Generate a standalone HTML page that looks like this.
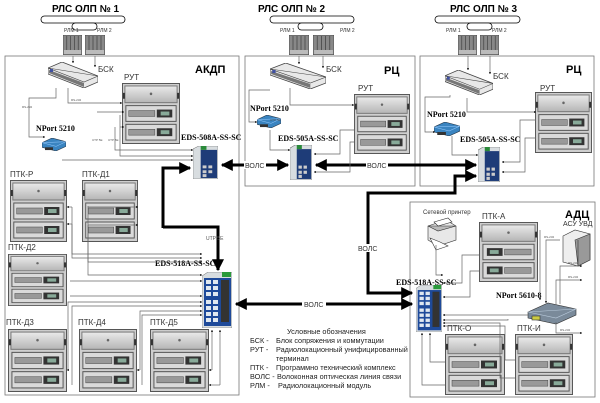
<!DOCTYPE html>
<html><head><meta charset="utf-8"><style>
html,body{margin:0;padding:0;background:#fff;}
svg{display:block;}
text{font-family:"Liberation Sans","DejaVu Sans",sans-serif;}
.s{font-family:"Liberation Serif",serif;font-weight:bold;font-size:8px;fill:#000;}
.l{font-size:8px;fill:#333;}
.t{font-size:3px;fill:#555;}
.th{fill:none;stroke:#000;stroke-width:3;}
.tn{fill:none;stroke:#666;stroke-width:0.7;}
</style></head><body>
<svg width="600" height="403" viewBox="0 0 600 403" xmlns="http://www.w3.org/2000/svg">
<defs>
<linearGradient id="rg" x1="0" y1="0" x2="0" y2="1"><stop offset="0" stop-color="#eaeaea"/><stop offset="1" stop-color="#b5b5b5"/></linearGradient>
<symbol id="rack" viewBox="0 0 60 62" preserveAspectRatio="none">
<rect x="0.5" y="0.5" width="59" height="61" fill="#cfcfcf" stroke="#555"/>
<rect x="3" y="3" width="54" height="17" fill="url(#rg)" stroke="#777"/>
<circle cx="30" cy="11" r="1.3" fill="#666"/>
<rect x="1" y="10" width="2" height="6" fill="#333"/><rect x="57" y="10" width="2" height="6" fill="#333"/>
<rect x="4" y="23" width="52" height="16" fill="#dadada" stroke="#555"/>
<rect x="7" y="28" width="27" height="6" fill="#999" stroke="#444" stroke-width="0.5"/>
<rect x="36" y="27" width="16" height="8" fill="#333"/><rect x="40" y="29" width="9" height="4" fill="#8a9"/>
<rect x="4" y="42" width="52" height="16" fill="#dadada" stroke="#555"/>
<rect x="7" y="47" width="27" height="6" fill="#999" stroke="#444" stroke-width="0.5"/>
<rect x="36" y="46" width="16" height="8" fill="#333"/><rect x="40" y="48" width="9" height="4" fill="#8a9"/>
</symbol>
<symbol id="sw" viewBox="0 0 26 34" preserveAspectRatio="none">
<polygon points="0,3 6,0 26,0 26,34 0,34" fill="#d8dde0" stroke="#666" stroke-width="0.5"/>
<rect x="8" y="4" width="17" height="29" fill="#1e3c78"/>
<rect x="10" y="20" width="4" height="3" fill="#ccc"/><rect x="16" y="20" width="4" height="3" fill="#ccc"/>
<rect x="10" y="25" width="4" height="3" fill="#ccc"/><rect x="16" y="25" width="4" height="3" fill="#ccc"/>
<rect x="10" y="29" width="4" height="3" fill="#ccc"/>
<rect x="8" y="0" width="6" height="4" fill="#2a8a3a"/>
</symbol>
<symbol id="sw18" viewBox="0 0 30 56" preserveAspectRatio="none">
<polygon points="0,4 6,0 30,0 30,56 0,56" fill="#d8dde0" stroke="#666" stroke-width="0.5"/>
<rect x="2" y="6" width="27" height="48" fill="#1e4a9a"/>
<g fill="#e0e8f0">
<rect x="4" y="8" width="5" height="4"/><rect x="11" y="8" width="5" height="4"/>
<rect x="4" y="14" width="5" height="4"/><rect x="11" y="14" width="5" height="4"/>
<rect x="4" y="20" width="5" height="4"/><rect x="11" y="20" width="5" height="4"/>
<rect x="4" y="28" width="5" height="4"/><rect x="11" y="28" width="5" height="4"/>
<rect x="4" y="34" width="5" height="4"/><rect x="11" y="34" width="5" height="4"/>
<rect x="4" y="40" width="5" height="4"/><rect x="11" y="40" width="5" height="4"/>
<rect x="4" y="46" width="5" height="4"/><rect x="11" y="46" width="5" height="4"/>
</g>
<rect x="19" y="8" width="8" height="42" fill="#333"/>
<rect x="20" y="0" width="9" height="5" fill="#2a9a3a"/>
</symbol>
<symbol id="bsk" viewBox="0 0 50 26" preserveAspectRatio="none">
<polygon points="0,6 14,0 50,14 50,20 36,26 0,12" fill="#e8e8e8" stroke="#444" stroke-width="0.8"/>
<polygon points="0,6 36,20 50,14" fill="none" stroke="#444" stroke-width="0.6"/>
<polygon points="1,8 36,21 36,25 1,11" fill="#777"/>
<rect x="2" y="7" width="3" height="3" fill="#4050a0"/>
</symbol>
<symbol id="np" viewBox="0 0 24 14" preserveAspectRatio="none">
<polygon points="0,5 10,0 24,4 24,9 14,14 0,10" fill="#3a84c0" stroke="#234" stroke-width="0.6"/>
<polygon points="0,5 14,9 24,4" fill="none" stroke="#9cf" stroke-width="0.5"/>
<rect x="3" y="10" width="8" height="3" fill="#333"/>
</symbol>
<symbol id="rlm" viewBox="0 0 20 20" preserveAspectRatio="none">
<rect x="0" y="0" width="20" height="20" fill="#888" stroke="#333" stroke-width="0.6"/>
<g stroke="#333" stroke-width="0.6"><line x1="4" y1="1" x2="4" y2="15"/><line x1="8" y1="1" x2="8" y2="15"/><line x1="12" y1="1" x2="12" y2="15"/><line x1="16" y1="1" x2="16" y2="15"/></g>
<rect x="1" y="15" width="18" height="4" fill="#bbb"/>
</symbol>
<marker id="a" viewBox="0 0 10 10" refX="9" refY="5" markerWidth="4" markerHeight="4" orient="auto-start-reverse"><path d="M0,0L10,5L0,10z" fill="#000"/></marker>
<marker id="b" viewBox="0 0 10 10" refX="9" refY="5" markerWidth="3" markerHeight="3" orient="auto-start-reverse"><path d="M0,0L10,5L0,10z" fill="#000"/></marker>
</defs>

<g fill="none" stroke="#777" stroke-width="0.8">
<rect x="5" y="56" width="234" height="339"/>
<rect x="245" y="56" width="170" height="130"/>
<rect x="420" y="56" width="174" height="130"/>
<rect x="410" y="202" width="185" height="195"/>
</g>

<g font-weight="bold" font-size="10" fill="#000">
<text x="52" y="12">РЛС ОЛП № 1</text>
<text x="258" y="12">РЛС ОЛП № 2</text>
<text x="450" y="12">РЛС ОЛП № 3</text>
</g>
<g fill="#fff" stroke="#000" stroke-width="0.8">
<rect x="41" y="16" width="84" height="7" rx="3.5"/><rect x="72" y="23" width="25" height="7" rx="3.5"/>
<rect x="270" y="16" width="84" height="7" rx="3.5"/><rect x="298" y="23" width="25" height="7" rx="3.5"/>
<rect x="435" y="16" width="85" height="7" rx="3.5"/><rect x="467" y="23" width="25" height="7" rx="3.5"/>
</g>
<g font-family="Liberation Serif,serif" font-size="5" fill="#333">
<text x="64" y="32">РЛМ 1</text><text x="97" y="32">РЛМ 2</text>
<text x="280" y="32">РЛМ 1</text><text x="340" y="32">РЛМ 2</text>
<text x="446" y="32">РЛМ 1</text><text x="492" y="32">РЛМ 2</text>
</g>
<use href="#rlm" x="63" y="35" width="19" height="20"/><use href="#rlm" x="85" y="35" width="20" height="20"/>
<use href="#rlm" x="289" y="35" width="20" height="20"/><use href="#rlm" x="313" y="35" width="21" height="20"/>
<use href="#rlm" x="458" y="35" width="19" height="20"/><use href="#rlm" x="480" y="35" width="19" height="20"/>

<g font-weight="bold" font-size="11" fill="#000">
<text x="195" y="73">АКДП</text><text x="384" y="74">РЦ</text><text x="566" y="73">РЦ</text><text x="565" y="218">АДЦ</text>
</g>

<!-- AKDP -->
<use href="#bsk" x="48" y="62" width="50" height="26"/>
<text class="l" x="98" y="72">БСК</text>
<text class="l" x="124" y="80">РУТ</text>
<use href="#rack" x="122" y="83" width="58" height="61"/>
<text class="s" x="36" y="131">NPort 5210</text>
<use href="#np" x="42" y="138" width="24" height="13"/>
<text class="s" x="181" y="140">EDS-508A-SS-SC</text>
<use href="#sw" x="193" y="146" width="25" height="33"/>
<g class="tn" marker-end="url(#b)">
<path d="M73,56V63"/><path d="M95,56V67"/>
<path d="M56,88V98H29V137H45"/>
<path d="M68,88V103H122"/>
<path d="M97,112H124"/><path d="M120,115V156H193"/>
<path d="M120,127H124"/><path d="M115,127V150H193"/>
<path d="M62,160H193"/>
</g>
<text class="t" x="22" y="108">RS-232</text><text class="t" x="71" y="101">RS-232</text>
<text class="t" x="92" y="141">UTP 5E</text><text class="t" x="108" y="141">UTP 5E</text>

<text class="l" x="10" y="177">ПТК-Р</text><text class="l" x="82" y="177">ПТК-Д1</text>
<use href="#rack" x="10" y="180" width="57" height="62"/>
<use href="#rack" x="82" y="180" width="56" height="62"/>
<text class="l" x="8" y="250">ПТК-Д2</text>
<use href="#rack" x="8" y="254" width="59" height="52"/>
<text class="l" x="6" y="325">ПТК-Д3</text><text class="l" x="78" y="325">ПТК-Д4</text><text class="l" x="150" y="325">ПТК-Д5</text>
<use href="#rack" x="8" y="329" width="59" height="63"/>
<use href="#rack" x="79" y="329" width="58" height="63"/>
<use href="#rack" x="150" y="329" width="59" height="63"/>
<text class="s" x="155" y="266">EDS-518A-SS-SC</text>
<use href="#sw18" x="202" y="272" width="30" height="56"/>
<g class="tn" marker-end="url(#b)">
<path d="M72,207V254H202"/><path d="M72,224V258H202"/>
<path d="M88,206V262H202"/><path d="M88,225V275H202"/>
<path d="M70,281H202"/><path d="M70,296H202"/>
<path d="M68,370V302H202"/><path d="M72,385V306H202"/>
<path d="M140,370V311H202"/><path d="M142,385V315H202"/>
<path d="M212,370V330"/><path d="M220,385V330"/>
</g>
<g class="tn" marker-start="url(#b)"><path d="M67,207H72"/><path d="M67,224H72"/><path d="M138,207H88"/><path d="M138,225H88"/><path d="M67,370H68"/><path d="M137,370H140"/><path d="M209,370H212"/><path d="M209,385H220"/></g>

<path class="th" d="M163,228V168H190" marker-end="url(#a)"/>
<path class="th" d="M163,227H218V270" marker-end="url(#a)"/>
<text class="t" x="206" y="240" style="font-size:5px">UTP 5E</text>
<path class="th" d="M222,165H288" marker-start="url(#a)" marker-end="url(#a)"/>
<rect x="244" y="161" width="22" height="8" fill="#fff"/><text class="l" x="245" y="168" style="font-size:7px">ВОЛС</text>
<path class="th" d="M316,165H476" marker-start="url(#a)" marker-end="url(#a)"/>
<rect x="366" y="161" width="22" height="8" fill="#fff"/><text class="l" x="367" y="168" style="font-size:7px">ВОЛС</text>
<path class="th" d="M476,176H455V193H368V293H412" marker-end="url(#a)" marker-start="url(#a)"/>
<rect x="357" y="244" width="22" height="8" fill="#fff"/><text class="l" x="358" y="251" style="font-size:7px">ВОЛС</text>
<path class="th" d="M236,304H412" marker-start="url(#a)" marker-end="url(#a)"/>
<rect x="302" y="300" width="24" height="8" fill="#fff"/><text class="l" x="304" y="307" style="font-size:7px">ВОЛС</text>

<!-- RC2 -->
<use href="#bsk" x="270" y="63" width="56" height="26"/>
<text class="l" x="326" y="72">БСК</text>
<text class="l" x="358" y="91">РУТ</text>
<use href="#rack" x="354" y="94" width="56" height="60"/>
<text class="s" x="250" y="111">NPort 5210</text>
<use href="#np" x="257" y="115" width="24" height="13"/>
<text class="s" x="278" y="141">EDS-505A-SS-SC</text>
<use href="#sw" x="290" y="145" width="22" height="35"/>
<g class="tn" marker-end="url(#b)">
<path d="M299,56V64"/><path d="M323,56V68"/>
<path d="M270,90H249V122H257"/>
<path d="M290,88V105H354"/>
<path d="M270,130V150H290"/>
<path d="M354,130H340V154H314"/>
<path d="M354,142H350V172H314"/>
</g>
<text class="t" x="270" y="121">UTP 5E</text>

<!-- RC3 -->
<use href="#bsk" x="445" y="70" width="48" height="25"/>
<text class="l" x="493" y="79">БСК</text>
<text class="l" x="540" y="91">РУТ</text>
<use href="#rack" x="535" y="92" width="57" height="61"/>
<text class="s" x="427" y="117">NPort 5210</text>
<use href="#np" x="434" y="122" width="26" height="14"/>
<text class="s" x="460" y="142">EDS-505A-SS-SC</text>
<use href="#sw" x="478" y="147" width="22" height="35"/>
<g class="tn" marker-end="url(#b)">
<path d="M468,56V70"/><path d="M490,56V74"/>
<path d="M450,95V97H425V132H435"/>
<path d="M467,98V112H536"/>
<path d="M452,136V155H478"/>
<path d="M536,120H520V162H502"/>
<path d="M536,138H525V172H502"/>
</g>

<!-- ADC -->
<text x="423" y="214" font-family="Liberation Serif,serif" font-size="6" fill="#333">Сетевой принтер</text>
<g stroke="#333" stroke-width="0.6">
<polygon points="428,226 446,220 456,226 456,240 438,246 428,240" fill="#e8e8e8"/>
<polygon points="428,226 438,231 456,226" fill="#bbb"/>
<polygon points="434,222 448,218 452,222 438,226" fill="#fff"/>
<polygon points="430,238 440,242 448,246 436,250" fill="#fff"/>
</g>
<text class="l" x="482" y="219">ПТК-А</text>
<use href="#rack" x="479" y="222" width="59" height="60" transform="translate(1017,0) scale(-1,1)"/>
<text class="l" x="563" y="226" style="font-size:7px">АСУ УВД</text>
<g stroke="#333" stroke-width="0.6"><polygon points="563,236 575,230 590,234 590,260 578,266 563,262" fill="#eee"/><polygon points="575,240 590,234 590,260 578,266" fill="#999"/><line x1="578" y1="240" x2="578" y2="266"/></g>
<text class="s" x="396" y="285">EDS-518A-SS-SC</text>
<use href="#sw18" x="416" y="285" width="26" height="47"/>
<text class="s" x="496" y="298">NPort 5610-8</text>
<g stroke="#333" stroke-width="0.6"><polygon points="528,312 548,303 576,309 576,315 556,324 528,318" fill="#7a8a9a"/><polygon points="528,312 556,318 576,309" fill="none" stroke="#bcd"/><rect x="532" y="316" width="8" height="4" fill="#cc4"/></g>
<text class="l" x="447" y="331">ПТК-О</text><text class="l" x="517" y="331">ПТК-И</text>
<use href="#rack" x="445" y="334" width="60" height="61"/>
<use href="#rack" x="515" y="334" width="58" height="61"/>
<g class="tn" marker-end="url(#b)">
<path d="M436,245V275H443"/>
<path d="M479,255H462V283H443"/>
<path d="M479,271H470V297H443"/>
<path d="M528,315H443"/><path d="M508,319V320H443"/>
<path d="M515,378H500V323H443"/>
<path d="M515,360H505V326H443"/>
<path d="M445,362H430V333"/><path d="M445,385H422V333"/>
<path d="M560,240H546V303"/>
<path d="M540,230V300"/>
<path d="M556,305V280H582"/><path d="M560,304V266H582"/>
<path d="M556,322V333H582"/>
</g>
<text class="t" x="544" y="238">RS-232</text><text class="t" x="568" y="264">RS-232</text><text class="t" x="568" y="278">RS-232</text><text class="t" x="560" y="331">RS-232</text>

<g font-size="7.3" fill="#222">
<text x="287" y="334">Условные обозначения</text>
<text x="250" y="343">БСК -</text><text x="276" y="343">Блок сопряжения и коммутации</text>
<text x="250" y="352">РУТ -</text><text x="276" y="352">Радиолокационный унифицированный</text>
<text x="276" y="361">терминал</text>
<text x="250" y="370">ПТК -</text><text x="276" y="370">Программно технический комплекс</text>
<text x="250" y="379">ВОЛС -</text><text x="277" y="379">Волоконная оптическая линия связи</text>
<text x="250" y="388">РЛМ -</text><text x="278" y="388">Радиолокационный модуль</text>
</g>
</svg>
</body></html>
